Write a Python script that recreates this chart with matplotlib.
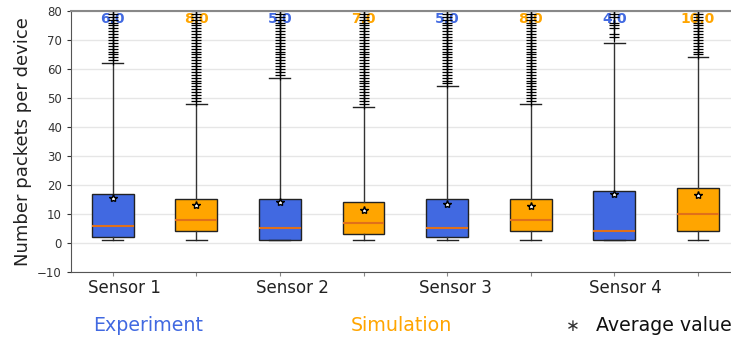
import matplotlib
matplotlib.use("Agg")
import matplotlib.pyplot as plt

# Per-box summary statistics (Experiment / Simulation alternating per sensor)
sensors = ["Sensor 1", "Sensor 2", "Sensor 3", "Sensor 4"]
groups = ["Experiment", "Simulation"] * 4
q1 = [2, 4, 1, 3, 2, 4, 1, 4]
medians = [6.0, 8.0, 5.0, 7.0, 5.0, 8.0, 4.0, 10.0]
q3 = [17, 15, 15, 14, 15, 15, 18, 19]
means = [15.5, 13.0, 14.0, 11.4, 13.6, 12.6, 16.8, 16.5]
whisker_low = [1, 1, 1, 1, 1, 1, 1, 1]
whisker_high = [62, 48, 57, 47, 54, 48, 69, 64]
fliers = [
    [63, 64, 65, 66, 67, 68, 69, 70, 71, 72, 73, 74, 75, 76, 77, 78, 79, 80],
    [49, 50, 51, 52, 53, 54, 55, 56, 57, 58, 59, 60, 61, 62, 63, 64, 65, 66,
     67, 68, 69, 70, 71, 72, 73, 74, 75, 76, 77, 78, 79, 80],
    [58, 59, 60, 61, 62, 63, 64, 65, 66, 67, 68, 69, 70, 71, 72, 73, 74, 75,
     76, 77, 78, 79, 80],
    [48, 49, 50, 51, 52, 53, 54, 55, 56, 57, 58, 59, 60, 61, 62, 63, 64, 65,
     66, 67, 68, 69, 70, 71, 72, 73, 74, 75, 76, 77, 78, 79, 80],
    [55, 56, 57, 58, 59, 60, 61, 62, 63, 64, 65, 66, 67, 68, 69, 70, 71, 72,
     73, 74, 75, 76, 77, 78, 79, 80],
    [49, 50, 51, 52, 53, 54, 55, 56, 57, 58, 59, 60, 61, 62, 63, 64, 65, 66,
     67, 68, 69, 70, 71, 72, 73, 74, 75, 76, 77, 78, 79, 80],
    [71, 72, 74, 75, 76, 78, 79, 80],
    [65, 66, 67, 68, 69, 70, 71, 72, 73, 74, 75, 76, 77, 78, 79, 80],
]
yticks = [-10, 0, 10, 20, 30, 40, 50, 60, 70, 80]

group_colors = {"Experiment": "#4169E1", "Simulation": "#FFA500"}

fig = plt.figure(figsize=(7.31, 3.43), dpi=100)
ax = fig.add_axes([0.097, 0.207, 0.915, 0.761])

positions = list(range(1, len(groups) + 1))
stats = []
for i in range(len(groups)):
    stats.append(dict(med=medians[i], q1=q1[i], q3=q3[i], mean=means[i],
                      whislo=whisker_low[i], whishi=whisker_high[i],
                      fliers=fliers[i]))

bp = ax.bxp(stats, positions=positions, widths=0.5, patch_artist=True,
            showmeans=True, showfliers=True,
            boxprops=dict(edgecolor="#222222", linewidth=1.0),
            whiskerprops=dict(color="#333333", linewidth=1.0),
            capprops=dict(color="#222222", linewidth=1.0),
            medianprops=dict(color="#e0701a", linewidth=1.5),
            meanprops=dict(marker="*", markerfacecolor="white",
                           markeredgecolor="black", markersize=6,
                           markeredgewidth=1.0),
            flierprops=dict(marker="+", markeredgecolor="black",
                            markersize=6.5, markeredgewidth=0.9,
                            linestyle="none"))
for patch, g in zip(bp["boxes"], groups):
    patch.set_facecolor(group_colors[g])

# Median value printed at the top of each box column
for pos, med, g in zip(positions, medians, groups):
    ax.text(pos, 77.3, f"{med:.1f}", ha="center", va="center",
            fontsize=10, fontweight="bold", color=group_colors[g], zorder=1)

ax.set_ylim(-10, 80)
ax.set_xlim(0.5, 8.5)
ax.set_yticks(yticks)
ax.set_xticks(positions)
ax.set_xticklabels([])
ax.tick_params(axis="y", labelsize=8.5, colors="#333333", length=3)
ax.tick_params(axis="x", length=3, colors="#888888")
ax.yaxis.grid(True, color="#e6e6e6", linewidth=1.0)
ax.set_axisbelow(True)
for side in ["left", "bottom", "top"]:
    ax.spines[side].set_color("#555555")
ax.spines["top"].set_color("#888888")
ax.spines["top"].set_linewidth(1.5)
ax.spines["right"].set_visible(False)

ax.set_ylabel("Number packets per device", fontsize=13, color="#222222")

# Sensor names under each Experiment/Simulation pair
sensor_centers = [1.14, 3.15, 5.1, 7.13]
for name, xc in zip(sensors, sensor_centers):
    ax.text(xc, -15.5, name, ha="center", va="center", fontsize=12,
            color="#222222", clip_on=False)

# Bottom key
fig.text(0.127, 0.05, "Experiment", fontsize=13.7,
         color=group_colors["Experiment"], ha="left", va="center")
fig.text(0.480, 0.05, "Simulation", fontsize=13.7,
         color=group_colors["Simulation"], ha="left", va="center")
fig.text(0.784, 0.05, "\u2217", fontsize=12, color="#333333",
         ha="center", va="center")
fig.text(0.815, 0.05, "Average value", fontsize=13.7, color="#111111",
         ha="left", va="center")

fig.savefig("out.png", dpi=100)
